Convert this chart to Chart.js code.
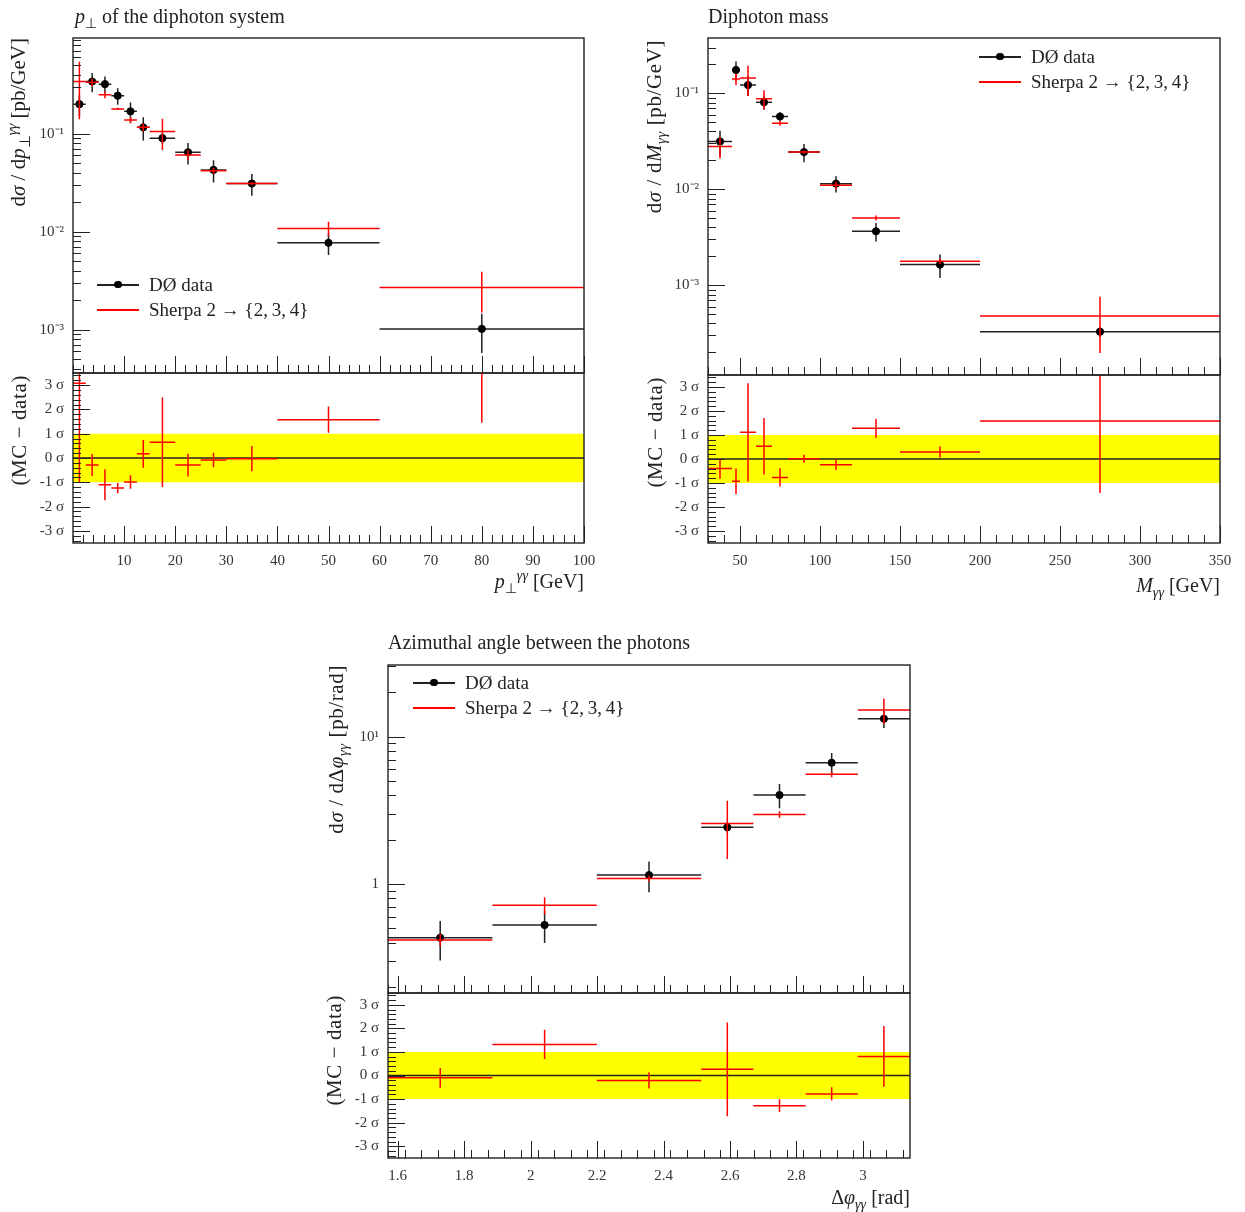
<!DOCTYPE html>
<html><head><meta charset="utf-8">
<script src="https://cdn.jsdelivr.net/npm/chart.js@4.4.0/dist/chart.umd.min.js"></script>
<style>
body{margin:0;background:#fff;width:1245px;height:1212px;position:relative;overflow:hidden;font-family:"Liberation Serif",serif;color:#222}
canvas{position:absolute}
.t{position:absolute;white-space:nowrap;font-size:20px;line-height:22px}
sub,sup{font-size:70%;line-height:0}
.rot{position:absolute;width:320px;height:24px;line-height:24px;text-align:right;transform-origin:0 0;transform:rotate(-90deg) translateX(-100%);white-space:nowrap;font-size:21px}
.ls{letter-spacing:0.6px}
.xt{position:absolute;width:300px;text-align:right;white-space:nowrap;font-size:20px;line-height:22px}
.leg{position:absolute;font-size:19px}
.row{display:flex;align-items:center;height:25px}
.smp{position:relative;display:inline-block;width:42px;height:2px;margin-right:10px}
.dot{position:absolute;left:17px;top:-3px;width:7.5px;height:7.5px;border-radius:50%;background:#000}
</style></head>
<body>
<script>
// ---------- p_T of the diphoton system ----------
const ptEdges   = [0,2.5,5,7.5,10,12.5,15,20,25,30,40,60,100];
const ptData    = [0.20,0.34,0.32,0.244,0.169,0.116,0.090,0.0645,0.0427,0.031,0.0077,0.00102];
const ptDataErr = [0.05,0.075,0.062,0.047,0.039,0.031,0.012,0.016,0.011,0.0077,0.0019,0.00044];
const ptMC      = [0.34,0.334,0.25,0.179,0.138,0.116,0.105,0.0606,0.0419,0.0311,0.0108,0.0027];
const ptMCErr   = [0.20,0.03,0.02,0.005,0.01,0.01,0.037,0.007,0.003,0.001,0.0018,0.0012];
const ptDev     = [3.08,-0.29,-1.10,-1.24,-0.99,0.17,0.65,-0.29,-0.08,-0.03,1.58,4.30];
const ptDevErr  = [4.07,0.45,0.64,0.21,0.28,0.57,1.84,0.47,0.30,0.52,0.54,2.85];
const ptXTicks  = [10,20,30,40,50,60,70,80,90,100];
const ptYTicks  = [1e-3,1e-2,1e-1];

// ---------- Diphoton mass ----------
const mEdges    = [30,45,50,60,70,80,100,120,150,200,350];
const mData     = [0.0315,0.175,0.122,0.0806,0.0573,0.0244,0.01143,0.00365,0.00164,0.000328];
const mDataErr  = [0.0093,0.039,0.028,0.0125,0.006,0.0053,0.0022,0.0008,0.00045,0.00004];
const mMC       = [0.0279,0.141,0.144,0.0875,0.0488,0.0244,0.0110,0.00503,0.00178,0.000477];
const mMCErr    = [0.007,0.02,0.05,0.02,0.003,0.001,0.001,0.0003,0.00012,0.00028];
const mDev      = [-0.40,-0.93,1.11,0.53,-0.77,0.01,-0.24,1.28,0.29,1.58];
const mDevErr   = [0.42,0.53,2.05,1.18,0.38,0.17,0.22,0.40,0.23,3.0];
const mXTicks   = [50,100,150,200,250,300,350];
const mYTicks   = [1e-3,1e-2,1e-1];

// ---------- Azimuthal angle between the photons ----------
const phiEdges   = [1.5708,1.8850,2.1991,2.5133,2.6704,2.8274,2.9845,3.1416];
const phiData    = [0.432,0.527,1.15,2.43,4.02,6.66,13.25];
const phiDataErr = [0.13,0.13,0.27,0.20,0.75,1.1,1.8];
const phiMC      = [0.417,0.717,1.09,2.58,2.97,5.56,15.2];
const phiMCErr   = [0.04,0.095,0.05,1.1,0.15,0.25,3.0];
const phiDev     = [-0.10,1.32,-0.21,0.26,-1.28,-0.78,0.81];
const phiDevErr  = [0.42,0.62,0.34,1.99,0.27,0.28,1.29];
const phiXTicks  = [1.6,1.8,2,2.2,2.4,2.6,2.8,3];
const phiYTicks  = [1,10];

const devTicks = [-3,-2,-1,0,1,2,3];

Chart.defaults.font.family = '"Liberation Serif", serif';
Chart.defaults.color = '#333';

const BLACK = '#222', RED = '#ff0000', YELLOW = '#ffff00';

const frameTicks = {
  id: 'frameTicks',
  afterDraw(chart, args, o) {
    const {ctx, chartArea: a, scales: {x, y}} = chart;
    ctx.save();
    ctx.strokeStyle = '#222';
    ctx.lineWidth = 1;
    ctx.beginPath();
    const xt = (v, len) => { const p = Math.round(x.getPixelForValue(v)) + 0.5; ctx.moveTo(p, a.bottom); ctx.lineTo(p, a.bottom - len); };
    const yt = (v, len) => { const p = Math.round(y.getPixelForValue(v)) + 0.5; ctx.moveTo(a.left, p); ctx.lineTo(a.left + len, p); };
    o.xMajor.forEach(v => xt(v, 17)); o.xMinor.forEach(v => xt(v, 8));
    o.yMajor.forEach(v => yt(v, 17)); o.yMinor.forEach(v => yt(v, 8));
    ctx.stroke();
    ctx.lineWidth = 1.4;
    ctx.strokeRect(a.left, a.top, a.right - a.left, a.bottom - a.top);
    ctx.restore();
  }
};

function hsegs(edges, vals) {
  const out = [];
  vals.forEach((v, i) => { out.push({x: edges[i], y: v}, {x: edges[i+1], y: v}, {x: edges[i+1], y: null}); });
  return out;
}
function vsegs(edges, vals, errs, floor) {
  const out = [];
  vals.forEach((v, i) => { const c = (edges[i] + edges[i+1]) / 2;
    out.push({x: c, y: Math.max(v - errs[i], floor)}, {x: c, y: v + errs[i]}, {x: c, y: null}); });
  return out;
}
function centers(edges, vals) { return vals.map((v, i) => ({x: (edges[i] + edges[i+1]) / 2, y: v})); }
function lineDs(data, color, order, w) {
  return {type: 'line', data, borderColor: color, borderWidth: w || 1.5, pointRadius: 0, pointHoverRadius: 0, fill: false, spanGaps: false, tension: 0, order};
}
function range(a, b, s) { const r = []; for (let v = a; v <= b + 1e-9; v += s) r.push(+v.toFixed(6)); return r; }
function logMinor(min, max) {
  const r = []; for (let e = Math.floor(Math.log10(min)); e <= Math.ceil(Math.log10(max)); e++)
    for (let m = 2; m <= 9; m++) { const v = m * Math.pow(10, e); if (v > min && v < max) r.push(v); }
  return r;
}
const sup = {'-': '⁻', '0': '⁰', '1': '¹', '2': '²', '3': '³', '4': '⁴'};
function logLabel(v) { const e = Math.round(Math.log10(v)); if (e === 0) return '1'; return '10' + String(e).split('').map(c => sup[c]).join(''); }

function makeCanvas(left, top, w, h) {
  const c = document.createElement('canvas');
  c.width = w; c.height = h;
  c.style.left = left + 'px'; c.style.top = top + 'px';
  c.style.width = w + 'px'; c.style.height = h + 'px';
  document.body.appendChild(c);
  return c.getContext('2d');
}

function panel(p) {
  const F = p.frame, YW = 73, PR = 26, PV = 26;
  // main plot
  const ctxM = makeCanvas(F.l - YW, F.t - PV, F.r - (F.l - YW) + PR, F.b - F.t + 2 * PV);
  new Chart(ctxM, {
    type: 'line',
    data: { datasets: [
      lineDs(hsegs(p.edges, p.mc), RED, 1),
      lineDs(vsegs(p.edges, p.mc, p.mcErr, 1e-9), RED, 1),
      {type: 'scatter', data: centers(p.edges, p.data), backgroundColor: '#000', borderColor: '#000', pointRadius: 3.6, showLine: false, order: 4},
      lineDs(hsegs(p.edges, p.data), BLACK, 5),
      lineDs(vsegs(p.edges, p.data, p.dataErr, 1e-9), BLACK, 5)
    ]},
    options: {
      responsive: false, animation: false, devicePixelRatio: 1,
      layout: {padding: {left: 0, top: PV, right: PR, bottom: PV}},
      plugins: {legend: {display: false}, tooltip: {enabled: false},
        frameTicks: {xMajor: p.xTicks, xMinor: range(p.xmin, p.xmax, p.xMinor).filter(v => !p.xTicks.some(t => Math.abs(t - v) < 1e-6)),
                     yMajor: p.yTicks, yMinor: logMinor(p.ymin, p.ymax)}},
      scales: {
        x: {type: 'linear', min: p.xmin, max: p.xmax, display: false},
        y: {type: 'logarithmic', min: p.ymin, max: p.ymax,
            grid: {display: false, drawTicks: false}, border: {display: false},
            afterBuildTicks: s => { s.ticks = p.yTicks.map(v => ({value: v})); },
            afterFit: s => { s.width = YW; },
            ticks: {callback: v => logLabel(v), font: {size: 15}, color: '#333', padding: 9, autoSkip: false}}
      }
    },
    plugins: [frameTicks]
  });
  // ratio plot
  const XH = 40;
  const ctxR = makeCanvas(F.l - YW, F.b - PV, F.r - (F.l - YW) + PR, F.rb - F.b + PV + XH);
  new Chart(ctxR, {
    type: 'line',
    data: { datasets: [
      lineDs(hsegs(p.edges, p.dev), RED, 1),
      lineDs(vsegs(p.edges, p.dev, p.devErr, -50), RED, 1),
      lineDs([{x: p.xmin, y: 0}, {x: p.xmax, y: 0}], BLACK, 9, 1.3),
      {type: 'line', data: [{x: p.xmin, y: 1}, {x: p.xmax, y: 1}], borderWidth: 0, borderColor: 'rgba(0,0,0,0)', backgroundColor: YELLOW, pointRadius: 0, fill: {value: -1}, order: 10}
    ]},
    options: {
      responsive: false, animation: false, devicePixelRatio: 1,
      layout: {padding: {left: 0, top: PV, right: PR, bottom: 0}},
      plugins: {legend: {display: false}, tooltip: {enabled: false},
        frameTicks: {xMajor: p.xTicks, xMinor: range(p.xmin, p.xmax, p.xMinor).filter(v => !p.xTicks.some(t => Math.abs(t - v) < 1e-6)),
                     yMajor: devTicks, yMinor: range(-3.4, 3.4, 0.2).filter(v => Math.abs(v - Math.round(v)) > 1e-6)}},
      scales: {
        x: {type: 'linear', min: p.xmin, max: p.xmax,
            grid: {display: false, drawTicks: false}, border: {display: false},
            afterBuildTicks: s => { s.ticks = p.xTicks.map(v => ({value: v})); },
            afterFit: s => { s.height = XH; },
            ticks: {callback: v => String(v), font: {size: 15}, color: '#333', padding: 9, autoSkip: false, maxRotation: 0, minRotation: 0}},
        y: {type: 'linear', min: -3.5, max: 3.5,
            grid: {display: false, drawTicks: false}, border: {display: false},
            afterBuildTicks: s => { s.ticks = devTicks.map(v => ({value: v})); },
            afterFit: s => { s.width = YW; },
            ticks: {callback: v => v + ' σ', font: {size: 15}, color: '#333', padding: 9, autoSkip: false}}
      }
    },
    plugins: [frameTicks]
  });
}

panel({edges: ptEdges, data: ptData, dataErr: ptDataErr, mc: ptMC, mcErr: ptMCErr, dev: ptDev, devErr: ptDevErr,
       xmin: 0, xmax: 100, xMinor: 2, xTicks: ptXTicks, ymin: 3.62e-4, ymax: 0.946, yTicks: ptYTicks,
       frame: {l: 73, t: 38, r: 584, b: 373, rb: 543}});
panel({edges: mEdges, data: mData, dataErr: mDataErr, mc: mMC, mcErr: mMCErr, dev: mDev, devErr: mDevErr,
       xmin: 30, xmax: 350, xMinor: 10, xTicks: mXTicks, ymin: 1.16e-4, ymax: 0.377, yTicks: mYTicks,
       frame: {l: 708, t: 38, r: 1220, b: 375, rb: 543}});
panel({edges: phiEdges, data: phiData, dataErr: phiDataErr, mc: phiMC, mcErr: phiMCErr, dev: phiDev, devErr: phiDevErr,
       xmin: 1.5708, xmax: 3.1416, xMinor: 0.05, xTicks: phiXTicks, ymin: 0.182, ymax: 30.7, yTicks: phiYTicks,
       frame: {l: 388, t: 665, r: 910, b: 993, rb: 1158}});
</script>

<div class="t" style="left:75px;top:5px"><i>p</i><sub>⊥</sub> of the diphoton system</div>
<div class="t" style="left:708px;top:5px">Diphoton mass</div>
<div class="t" style="left:388px;top:631px">Azimuthal angle between the photons</div>

<div class="rot" style="left:6px;top:38px">d<i>σ</i> / d<i>p</i><sub>⊥</sub><sup><i>γγ</i></sup> [pb/GeV]</div>
<div class="rot ls" style="left:7px;top:375px">(MC − data)</div>
<div class="rot ls" style="left:642px;top:40px">d<i>σ</i> / d<i>M</i><sub><i>γγ</i></sub> [pb/GeV]</div>
<div class="rot ls" style="left:643px;top:377px">(MC − data)</div>
<div class="rot ls" style="left:324px;top:665px">d<i>σ</i> / dΔ<i>φ</i><sub><i>γγ</i></sub> [pb/rad]</div>
<div class="rot ls" style="left:322px;top:995px">(MC − data)</div>

<div class="xt" style="left:284px;top:570px"><i>p</i><sub>⊥</sub><sup><i>γγ</i></sup> [GeV]</div>
<div class="xt" style="left:920px;top:574px"><i>M</i><sub><i>γγ</i></sub> [GeV]</div>
<div class="xt" style="left:610px;top:1186px">Δ<i>φ</i><sub><i>γγ</i></sub> [rad]</div>

<div class="leg" style="left:97px;top:272px">
  <div class="row"><span class="smp" style="background:#222"><b class="dot"></b></span>DØ data</div>
  <div class="row"><span class="smp" style="background:#ff0000"></span>Sherpa 2 → {2,&thinsp;3,&thinsp;4}</div>
</div>
<div class="leg" style="left:979px;top:44px">
  <div class="row"><span class="smp" style="background:#222"><b class="dot"></b></span>DØ data</div>
  <div class="row"><span class="smp" style="background:#ff0000"></span>Sherpa 2 → {2,&thinsp;3,&thinsp;4}</div>
</div>
<div class="leg" style="left:413px;top:670px">
  <div class="row"><span class="smp" style="background:#222"><b class="dot"></b></span>DØ data</div>
  <div class="row"><span class="smp" style="background:#ff0000"></span>Sherpa 2 → {2,&thinsp;3,&thinsp;4}</div>
</div>
</body></html>
